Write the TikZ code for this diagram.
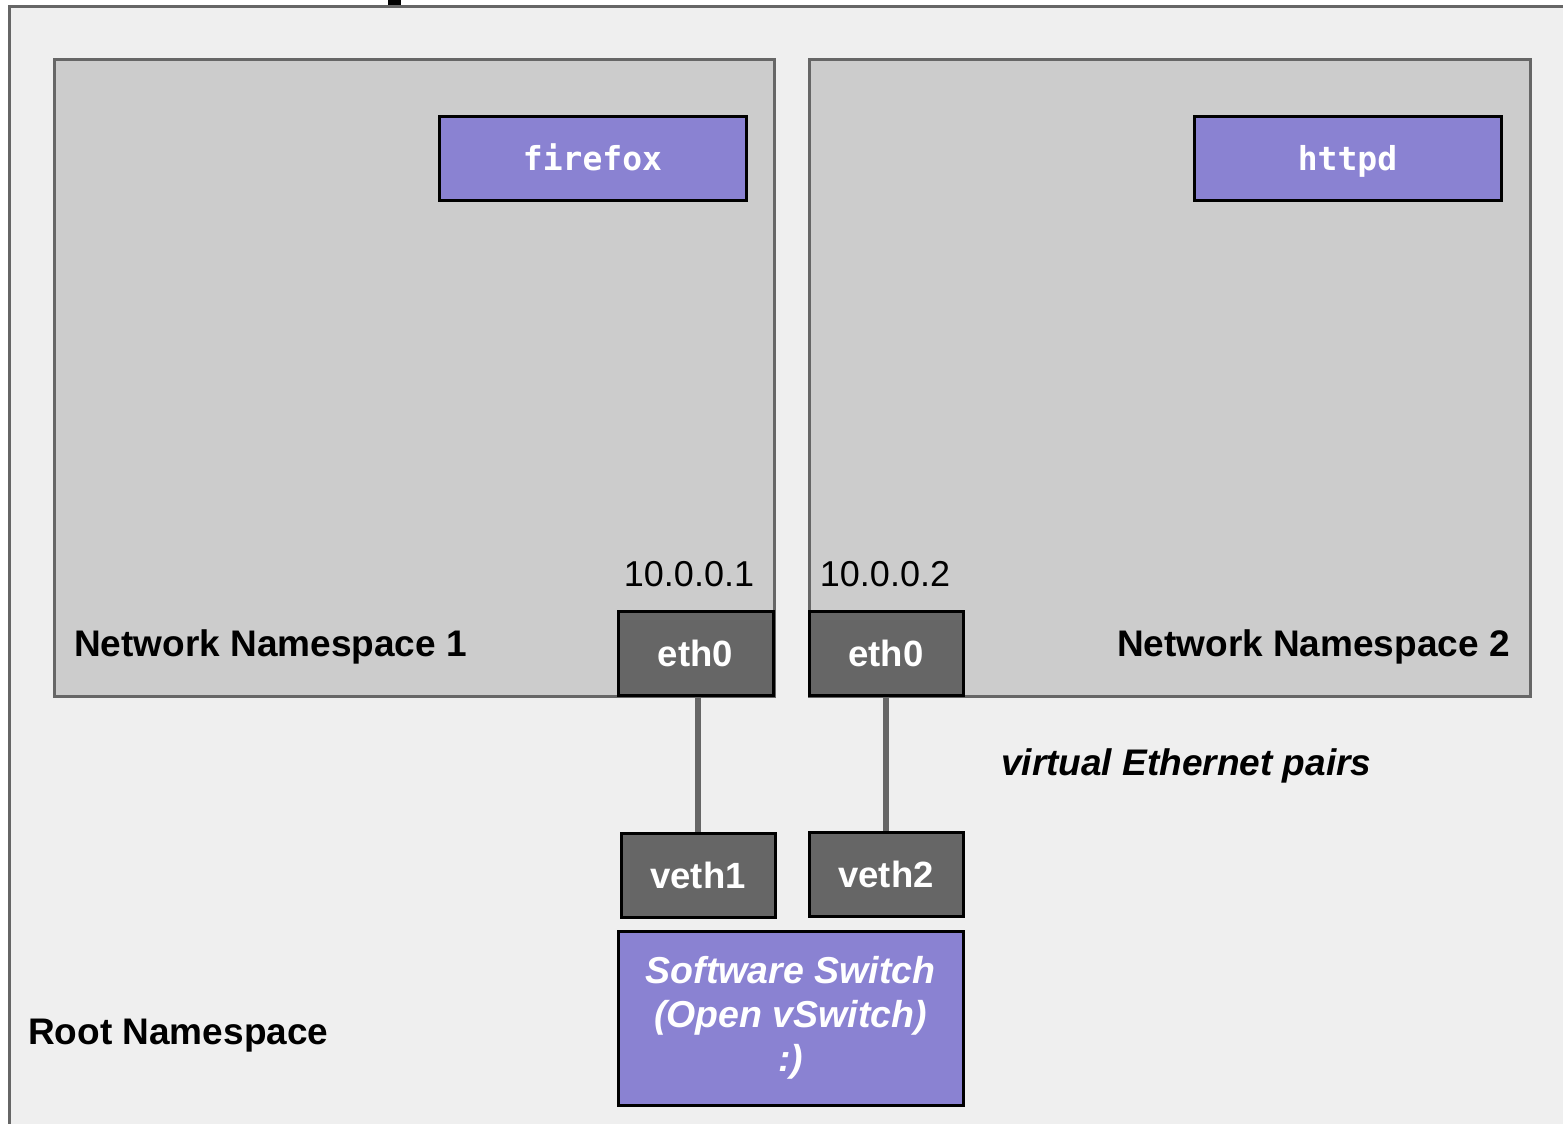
\documentclass[tikz,border=0pt]{standalone}
\usepackage{fontspec}
\setmainfont{Liberation Sans}
\newfontfamily\codefont{DejaVu Sans Mono}
\definecolor{rootfill}{HTML}{EFEFEF}
\definecolor{nsfill}{HTML}{CCCCCC}
\definecolor{frame}{HTML}{666666}
\definecolor{ifacefill}{HTML}{666666}
\definecolor{procfill}{HTML}{8A82D2}
\tikzset{
  nsbox/.style={draw=frame, fill=nsfill, line width=3pt, rectangle, inner sep=0pt},
  procbox/.style={draw=black, fill=procfill, line width=3pt, rectangle, inner sep=0pt,
    minimum width=307pt, minimum height=84pt, text=white,
    text height=31pt, text depth=7pt,
    font=\codefont\bfseries\fontsize{33}{40}\selectfont},
  iface/.style={draw=black, fill=ifacefill, line width=3pt, rectangle, inner sep=0pt,
    minimum width=154pt, minimum height=84pt, text=white,
    font=\bfseries\fontsize{36.5}{40}\selectfont},
  switchbox/.style={draw=black, fill=procfill, line width=3pt, rectangle, inner sep=0pt,
    minimum width=345pt, minimum height=174pt, text=white, align=center,
    font=\bfseries\itshape\fontsize{37.5}{44}\selectfont},
  label/.style={inner sep=0pt, font=\bfseries\fontsize{37}{40}\selectfont},
  addr/.style={inner sep=0pt, font=\fontsize{36}{40}\selectfont},
  vlink/.style={draw=frame, line width=6pt},
}
\begin{document}
\begin{tikzpicture}[x=1pt,y=-1pt]
\useasboundingbox (0,0) rectangle (1563,1124);
\clip (0,0) rectangle (1563,1124);
\fill[white] (0,0) rectangle (1563,1124);

% root namespace frame, running off the right and bottom edges
\draw[draw=frame, fill=rootfill, line width=3pt] (9,7) rectangle (1620,1180);
% descender of the heading above the frame
\fill[black] (388,0) rectangle (401,5);

% network namespaces
\node[nsbox, minimum width=720pt, minimum height=636pt] (ns1) at (414,378) {};
\node[nsbox, minimum width=721pt, minimum height=636pt] (ns2) at (1169.5,378) {};

% processes
\node[procbox] (firefox) at (592.5,158) {firefox};
\node[procbox] (httpd) at (1347.5,158) {httpd};

% namespace labels and addresses
\node[label, anchor=base west] (ns1label) at (74,656) {Network Namespace 1};
\node[label, anchor=base east] (ns2label) at (1510,656) {Network Namespace 2};
\node[addr, anchor=base] (ip1) at (689,586) {10.0.0.1};
\node[addr, anchor=base] (ip2) at (885,586) {10.0.0.2};

% interfaces
\node[iface, minimum width=155pt] (eth0a) at (695.5,653) {eth0};
\node[iface] (eth0b) at (886,653) {eth0};
\node[iface] (veth1) at (698,875) {veth1};
\node[iface] (veth2) at (886,874) {veth2};

% veth pair links
\draw[vlink] (eth0a.south -| veth1.north) -- (veth1.north);
\draw[vlink] (eth0b.south) -- (veth2.north);

\node[label, font=\bfseries\itshape\fontsize{37}{40}\selectfont, anchor=base west] (pairs) at (1001,775) {virtual Ethernet pairs};

% software switch
\node[switchbox] (switch) at (790.5,1018) {Software Switch\\(Open vSwitch)\\:)};

\node[label, anchor=base west] (rootlabel) at (28,1044) {Root Namespace};
\end{tikzpicture}
\end{document}
